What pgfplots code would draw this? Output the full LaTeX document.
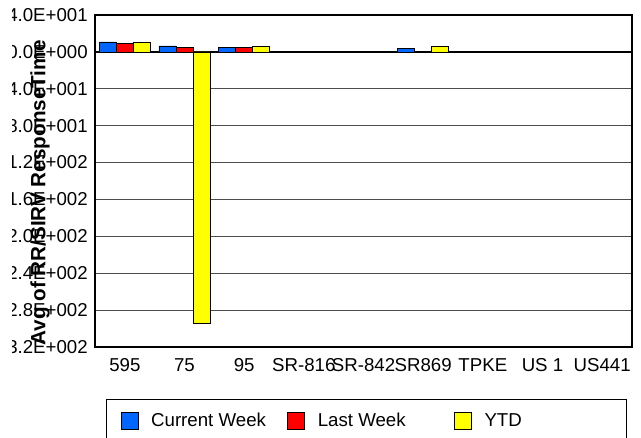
\documentclass[border=0pt]{standalone}
\usepackage{fontspec}
\setmainfont{Liberation Sans}
\usepackage{pgfplots}
\pgfplotsset{compat=1.18}
\definecolor{cblue}{RGB}{0,102,255}
\definecolor{cred}{RGB}{255,0,0}
\definecolor{cyel}{RGB}{255,255,0}
\pgfplotsset{sqlegend/.style={legend image code/.code={\draw[##1, draw=black, line width=0.5pt] (0pt,-2.25pt) rectangle (12.75pt,10.5pt);}}}
\newcommand{\fs}{\fontsize{14}{16}\selectfont}
\newcommand{\legtxt}[2]{\makebox[#1][l]{\raisebox{3.75pt}[\height][\depth]{#2}}}
\begin{document}
\begin{tikzpicture}
\begin{axis}[
  name=ax,
  scale only axis, width=402.75pt, height=249pt,
  xmin=-0.5, xmax=8.5, ymin=-320, ymax=40,
  xtick={0,1,2,3,4,5,6,7,8},
  xticklabels={595,75,95,SR-816,SR-842,SR869,TPKE,US 1,US441},
  ytick={-320,-280,-240,-200,-160,-120,-80,-40,0,40},
  yticklabels={-3.2E+002,-2.8E+002,-2.4E+002,-2.0E+002,-1.6E+002,-1.2E+002,-8.0E+001,-4.0E+001,0.0E+000,4.0E+001},
  major tick length=0pt,
  ymajorgrids, grid style={black!70, line width=0.75pt},
  extra y ticks={0}, extra y tick labels={},
  extra y tick style={grid style={black, line width=1.5pt}},
  axis line style={black, line width=1.2pt},
  ybar=0pt, bar width=12.75pt,
  yticklabel style={font=\fs, anchor=east, inner sep=0pt, xshift=-5.25pt},
  xticklabel style={font=\fs, anchor=north, inner sep=0pt, yshift=-8.25pt},
  ylabel={Avg of RR/SIRV ResponseTime},
  ylabel style={at={(axis description cs:-0.1024,0.464)}, anchor=center, font=\bfseries\fontsize{15.5}{17}\selectfont},
  legend columns=3,
  legend style={at={(axis description cs:0.0205,-0.1566)}, anchor=north west,
    draw=black, line width=0.75pt, inner xsep=10.5pt, inner ysep=9pt, font=\fs,
    nodes={inner sep=0pt},
    /tikz/every odd column/.append style={column sep=9.75pt},
    /tikz/every even column/.append style={column sep=0pt}},
]
\addplot[fill=cblue, draw=black, line width=0.5pt, sqlegend] coordinates {(0,10.8) (1,6.5) (2,4.8) (5,3.7)};
\addplot[fill=cred, draw=black, line width=0.5pt, sqlegend] coordinates {(0,9.1) (1,5.1) (2,4.8)};
\addplot[fill=cyel, draw=black, line width=0.5pt, sqlegend] coordinates {(0,10.1) (1,-294) (2,6.2) (5,6.2)};
\legend{\legtxt{102pt}{Current Week},\legtxt{102pt}{Last Week},\legtxt{96pt}{YTD}}
\end{axis}
\fill[white] ([shift={(-71.25pt,-67.5pt)}]ax.south west) rectangle ([shift={(-62.25pt,11.25pt)}]ax.north west);
\pgfresetboundingbox
\path[use as bounding box] ([shift={(-71.25pt,-67.5pt)}]ax.south west) rectangle ([shift={(6.75pt,11.25pt)}]ax.north east);
\end{tikzpicture}
\end{document}
